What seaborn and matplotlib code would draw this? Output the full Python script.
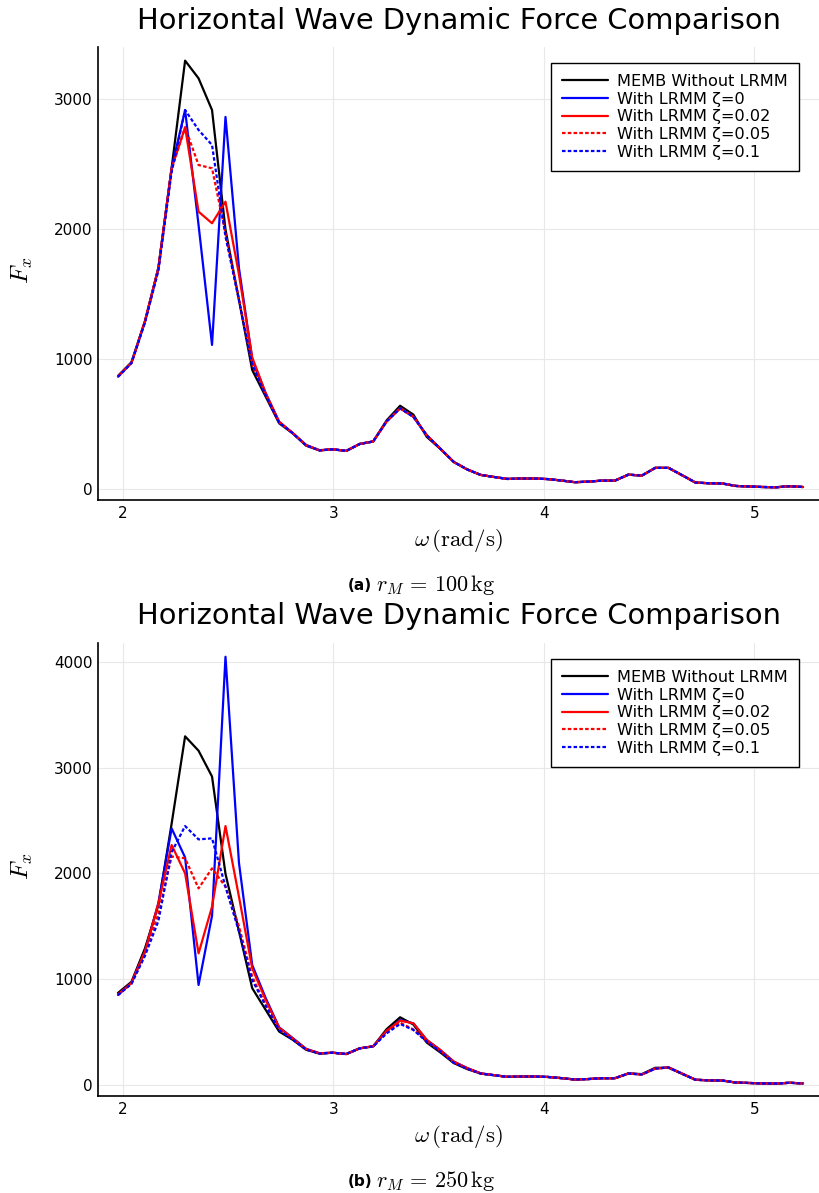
import numpy as np
import pandas as pd
import matplotlib
matplotlib.use("Agg")
import matplotlib.pyplot as plt
import seaborn as sns

# ---------------- data ----------------
omega = [1.976, 2.040, 2.104, 2.168, 2.231, 2.295, 2.359, 2.423, 2.487, 2.551,
         2.614, 2.678, 2.742, 2.806, 2.870, 2.934, 2.997, 3.061, 3.125, 3.189,
         3.253, 3.317, 3.380, 3.444, 3.508, 3.572, 3.636, 3.700, 3.764, 3.827,
         3.891, 3.955, 4.019, 4.083, 4.147, 4.210, 4.274, 4.338, 4.402, 4.466,
         4.530, 4.593, 4.657, 4.721, 4.785, 4.849, 4.913, 4.976, 5.040, 5.104,
         5.168, 5.232]

memb = [870, 975, 1290, 1700, 2470, 3295, 3159, 2915, 1995, 1454,
        915, 710, 505, 428, 333, 296, 305, 292, 346, 365,
        528, 640, 572, 400, 308, 207, 150, 108, 92, 77,
        80, 80, 76, 65, 52, 56, 64, 64, 110, 103,
        163, 162, 106, 49, 44, 42, 23, 19, 15, 13, 21, 15]

# panel (a): r_M = 100 kg
a_z0 = [865, 970, 1285, 1700, 2470, 2915, 2030, 1108, 2862, 1700,
        1000, 735, 515, 430, 338, 298, 305, 293, 346, 366,
        520, 620, 555, 412, 310, 208, 150, 108, 92, 77,
        80, 80, 76, 65, 52, 56, 64, 64, 110, 103,
        162, 162, 106, 49, 44, 42, 23, 19, 15, 13, 21, 15]
a_z002 = [865, 970, 1290, 1700, 2467, 2782, 2133, 2044, 2210, 1650,
          1012, 738, 518, 432, 338, 298, 305, 293, 346, 366,
          520, 622, 556, 413, 310, 208, 150, 108, 92, 77,
          80, 80, 76, 65, 52, 56, 64, 64, 110, 103,
          162, 162, 106, 49, 44, 42, 23, 19, 15, 13, 21, 15]
a_z005 = [865, 970, 1285, 1690, 2460, 2782, 2492, 2467, 1967, 1460,
          960, 725, 510, 430, 335, 297, 305, 293, 346, 365,
          520, 620, 555, 412, 310, 208, 150, 108, 92, 77,
          80, 80, 76, 65, 52, 56, 64, 64, 110, 103,
          162, 162, 106, 49, 44, 42, 23, 19, 15, 13, 21, 15]
a_z01 = [862, 968, 1280, 1680, 2440, 2915, 2762, 2646, 1941, 1450,
         955, 722, 510, 430, 335, 297, 305, 293, 346, 365,
         520, 620, 555, 412, 310, 208, 150, 108, 92, 77,
         80, 80, 76, 65, 52, 56, 64, 64, 110, 103,
         162, 162, 106, 49, 44, 42, 23, 19, 15, 13, 21, 15]

# panel (b): r_M = 250 kg
b_z0 = [850, 965, 1260, 1720, 2425, 2150, 945, 1600, 4047, 2100,
        1134, 822, 545, 445, 342, 300, 305, 293, 347, 366,
        510, 614, 583, 425, 331, 221, 160, 110, 93, 77,
        80, 80, 76, 65, 52, 56, 64, 64, 108, 100,
        155, 167, 108, 50, 44, 42, 23, 19, 15, 13, 21, 15]
b_z002 = [855, 965, 1260, 1717, 2268, 2000, 1244, 1685, 2447, 1780,
          1103, 803, 542, 441, 340, 300, 305, 293, 347, 366,
          513, 608, 583, 425, 331, 221, 160, 110, 93, 77,
          80, 80, 76, 65, 52, 56, 64, 64, 108, 100,
          155, 167, 108, 50, 44, 42, 23, 19, 15, 13, 21, 15]
b_z005 = [850, 960, 1230, 1620, 2160, 2142, 1858, 2047, 1874, 1500,
          1023, 756, 525, 433, 337, 298, 305, 293, 346, 365,
          500, 589, 525, 410, 320, 212, 155, 108, 92, 77,
          80, 80, 76, 65, 52, 56, 64, 64, 108, 100,
          155, 165, 106, 49, 44, 42, 23, 19, 15, 13, 21, 15]
b_z01 = [850, 955, 1220, 1550, 2200, 2447, 2321, 2331, 1874, 1450,
         992, 750, 520, 430, 335, 297, 305, 293, 346, 364,
         488, 577, 520, 410, 318, 210, 153, 108, 92, 77,
         80, 80, 76, 65, 52, 56, 64, 64, 108, 100,
         155, 165, 106, 49, 44, 42, 23, 19, 15, 13, 21, 15]

labels = ["MEMB Without LRMM", "With LRMM ζ=0", "With LRMM ζ=0.02",
          "With LRMM ζ=0.05", "With LRMM ζ=0.1"]
panels = [
    dict(series=[memb, a_z0, a_z002, a_z005, a_z01], yticks=[0, 1000, 2000, 3000],
         ylim=(-85, 3400), tag="(a)", caption=r"$r_M\,=\,100\,\mathrm{kg}$"),
    dict(series=[memb, b_z0, b_z002, b_z005, b_z01], yticks=[0, 1000, 2000, 3000, 4000],
         ylim=(-104, 4177), tag="(b)", caption=r"$r_M\,=\,250\,\mathrm{kg}$"),
]
xticks = [2, 3, 4, 5]
title = "Horizontal Wave Dynamic Force Comparison"

# ---------------- style ----------------
sns.set_style("white")
plt.rcParams["font.family"] = ["DejaVu Sans"]
plt.rcParams["mathtext.fontset"] = "cm"
plt.rcParams["text.color"] = "black"
plt.rcParams["axes.labelcolor"] = "black"
plt.rcParams["xtick.color"] = "black"
plt.rcParams["ytick.color"] = "black"

colors = ["black", "blue", "red", "red", "blue"]
dot = (0, (1.6, 1.0))
styles = ["-", "-", "-", dot, dot]

W, H = 819, 1193
fig = plt.figure(figsize=(W / 100, H / 100), dpi=100)

axes_px = [(98, 47, 819, 500), (98, 643, 819, 1096)]
title_y = [21, 616]
xlabel_y = [540, 1137]
ylabel_y = [270, 866]
caption_y = [586, 1182]

for i, (p, (l, t, r, b)) in enumerate(zip(panels, axes_px)):
    ax = fig.add_axes([l / W, 1 - b / H, (r - l) / W, (b - t) / H])
    for vals, c, ls, lab in zip(p["series"], colors, styles, labels):
        df = pd.DataFrame({"omega": omega, "F": vals})
        sns.lineplot(data=df, x="omega", y="F", ax=ax, color=c, linestyle=ls,
                     lw=1.6, label=lab, legend=False)
    ax.set_xlim(1.881, 5.308)
    ax.set_ylim(*p["ylim"])
    ax.set_xticks(xticks)
    ax.set_yticks(p["yticks"])
    ax.set_xlabel("")
    ax.set_ylabel("")
    ax.grid(True, color="#e8e8e8", lw=0.8)
    ax.set_axisbelow(True)
    for s in ["top", "right"]:
        ax.spines[s].set_visible(False)
    for s in ["left", "bottom"]:
        ax.spines[s].set_color("black")
        ax.spines[s].set_linewidth(1.2)
    ax.tick_params(direction="in", length=4, width=1, colors="black",
                   labelcolor="black", labelsize=11, pad=4)
    leg = ax.legend(loc="upper right", bbox_to_anchor=(0.972, 0.965),
                    borderaxespad=0, fontsize=11.6, frameon=True, fancybox=False,
                    handlelength=2.85, handletextpad=0.55, labelspacing=0.17,
                    borderpad=0.68)
    leg.get_frame().set_edgecolor("black")
    leg.get_frame().set_linewidth(1.0)
    leg.get_frame().set_alpha(1)
    for txt in leg.get_texts():
        txt.set_color("black")

    fig.text(459 / W, 1 - title_y[i] / H, title, ha="center", va="center",
             fontsize=20.8, color="black")
    fig.text(458 / W, 1 - xlabel_y[i] / H, r"$\omega\,(\mathrm{rad/s})$",
             ha="center", va="center", fontsize=16.5, color="black")
    fig.text(22 / W, 1 - ylabel_y[i] / H, r"$F_x$", ha="center", va="center",
             fontsize=18, rotation=90, color="black")
    fig.text(372 / W, 1 - caption_y[i] / H, p["tag"], ha="right",
             va="center", fontsize=11, fontweight="bold", color="black")
    fig.text(376 / W, 1 - (caption_y[i] - 1) / H, p["caption"], ha="left",
             va="center", fontsize=16, color="black")

fig.savefig("out.png", dpi=100)
